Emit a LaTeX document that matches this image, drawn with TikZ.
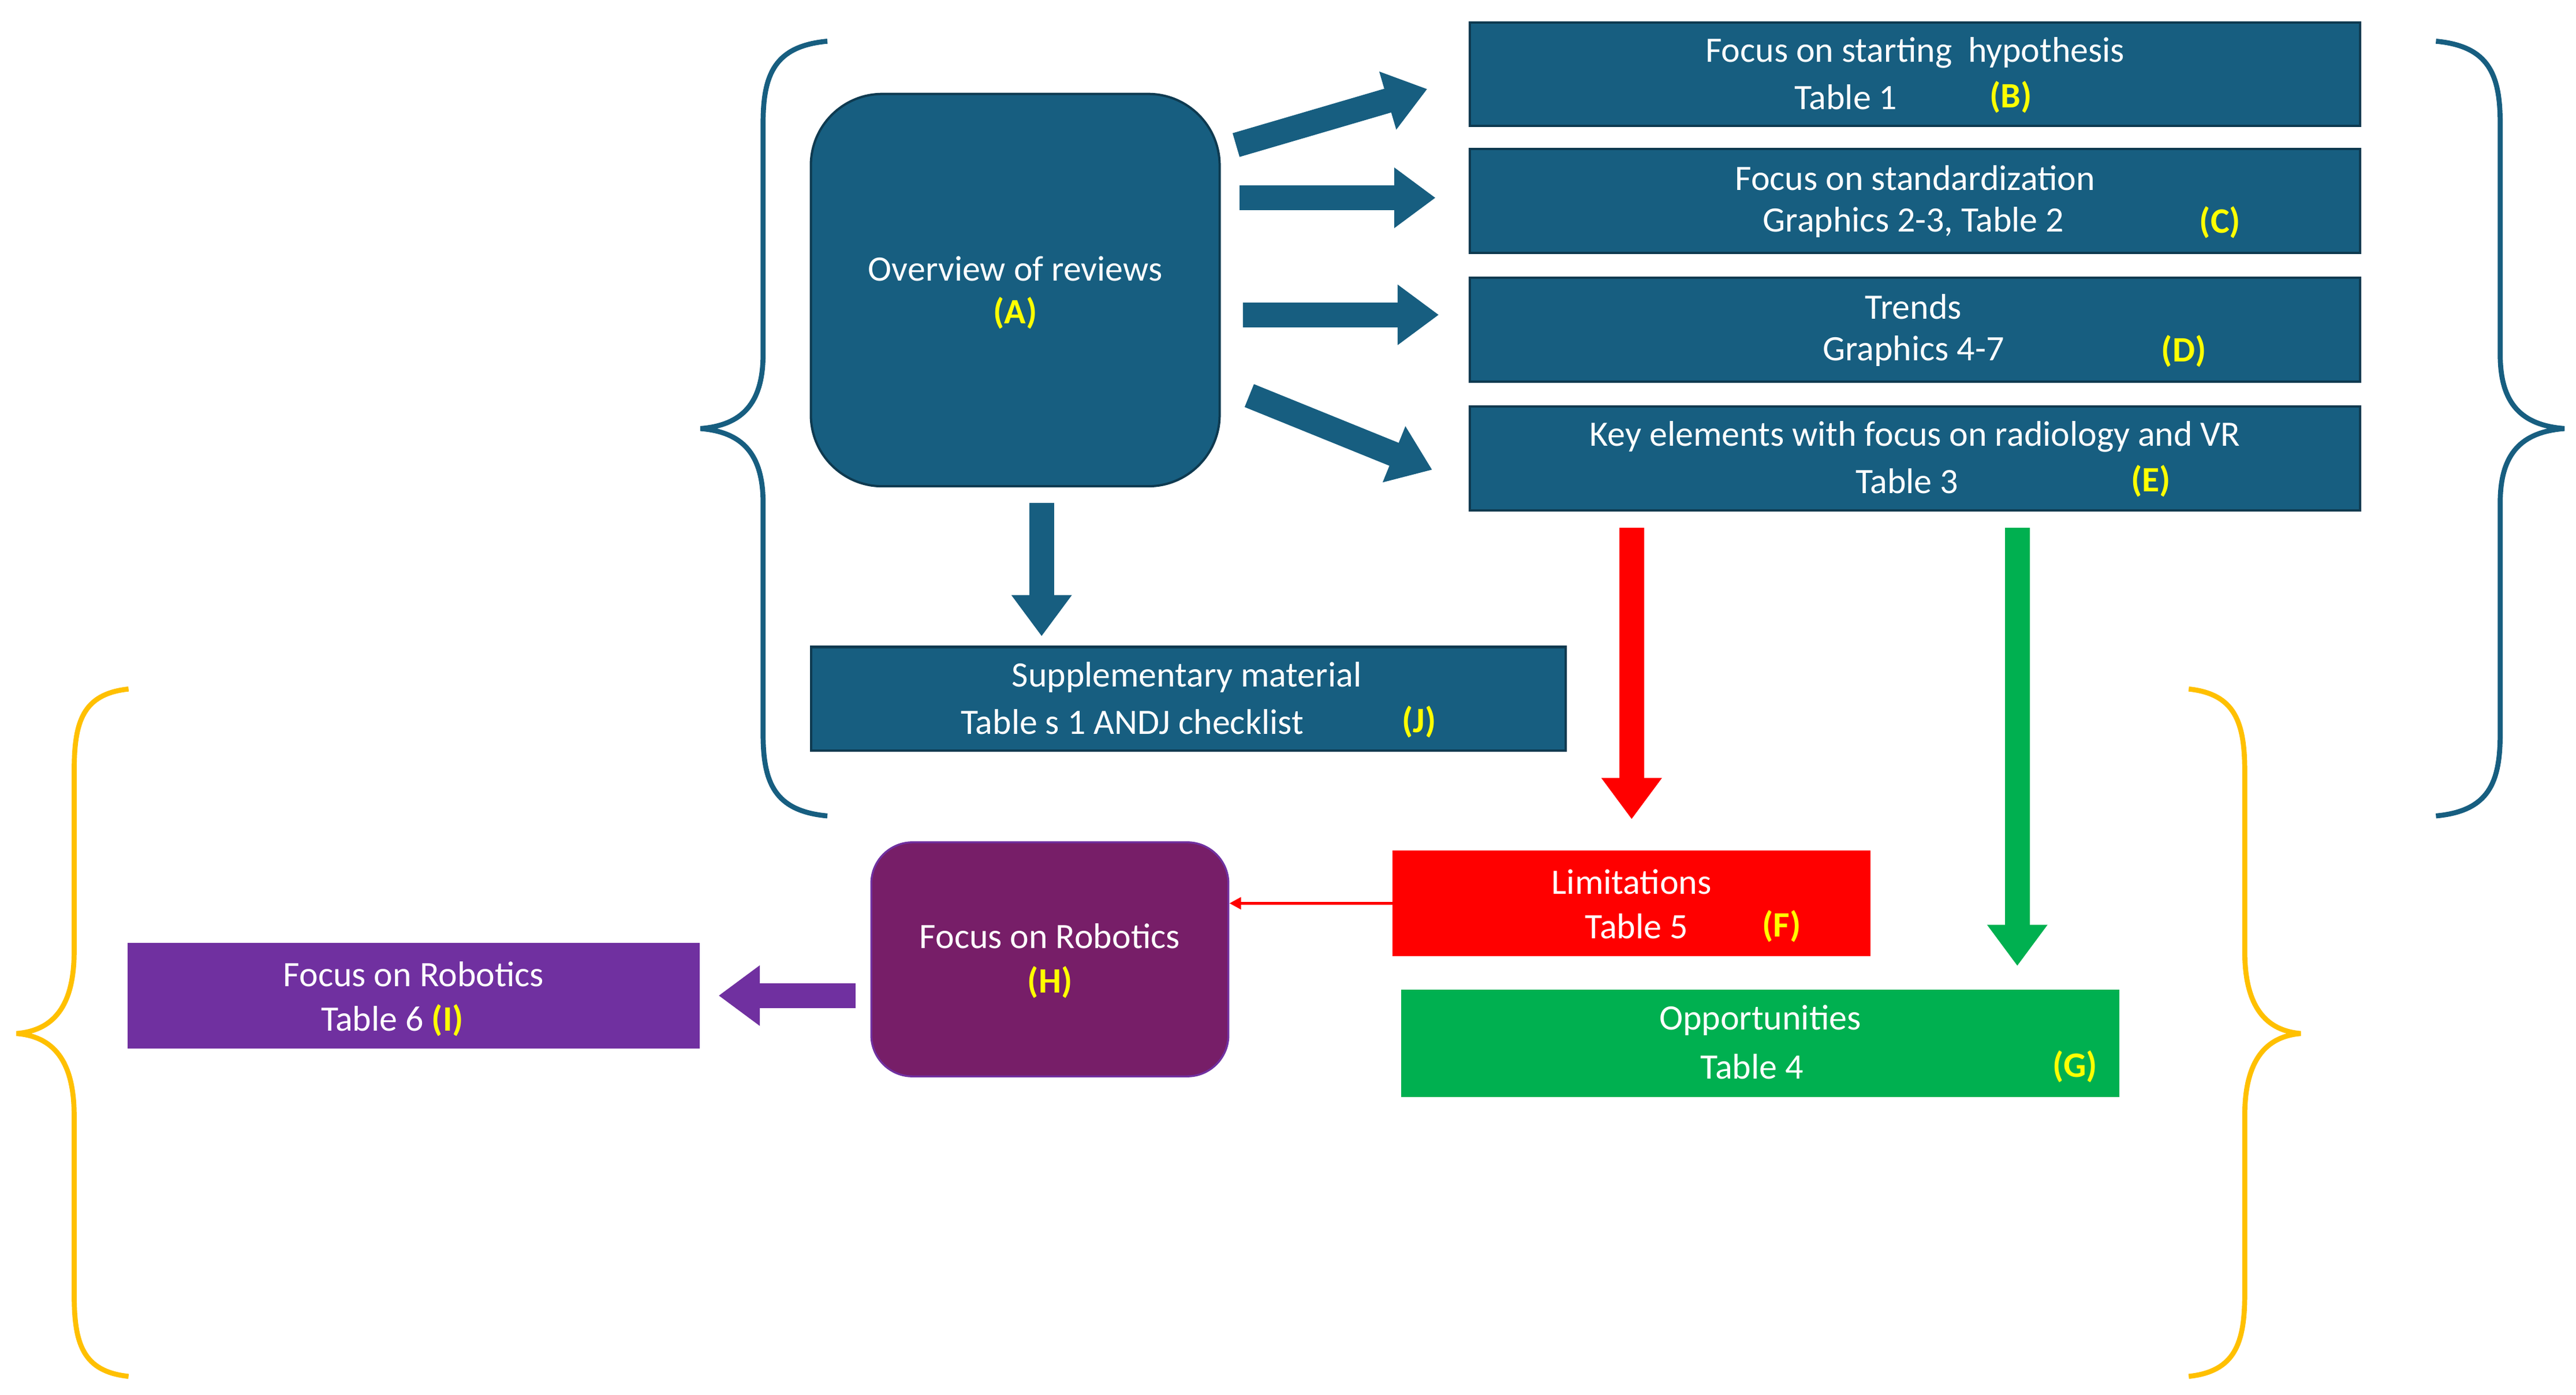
\documentclass[tikz,border=0pt]{standalone}
\usepackage{fontspec}
\setmainfont{Carlito}
\usetikzlibrary{arrows.meta,positioning}
\definecolor{teal}{HTML}{175E80}
\definecolor{tealdk}{HTML}{0E3A50}
\definecolor{yel}{HTML}{FFFF00}
\definecolor{gold}{HTML}{FFC000}
\definecolor{red1}{HTML}{FF0000}
\definecolor{grn}{HTML}{00B050}
\definecolor{plum}{HTML}{771E68}
\definecolor{purp}{HTML}{7030A0}
\begin{document}
\begin{tikzpicture}[x=0.03cm,y=-0.03cm,
  box/.style={draw=tealdk,line width=1.2pt,fill=teal,minimum height=1.89cm,inner sep=0},
  txt/.style={text=white,font=\fontsize{18.5}{22}\selectfont,inner sep=0},
  lab/.style={text=yel,font=\fontsize{18.5}{22}\selectfont\bfseries,inner sep=0},
  blk/.style={line width=0.45cm,-{Triangle[length=0.75cm,width=1.05cm]}},
  brace/.style={line width=2.6pt}]
\useasboundingbox (0,0) rectangle (1563,846);
% boxes
\node[box,rounded corners=1.3cm,minimum width=7.44cm,minimum height=7.14cm] (A) at (616,176) {};
\node[txt] (At) at (616,163) {Overview of reviews};
\node[lab] (Al) at (616,190) {(A)};
\foreach \n/\y in {B/45,C/122,D/200,E/278}{
  \node[box,minimum width=16.2cm] (\n) at (1162,\y) {};}
\node[txt] at (1162,32) {Focus on starting\ \ hypothesis};
\node[txt] at (1120,59) {Table 1}; \node[lab] at (1220,59) {(B)};
\node[txt] at (1162,108) {Focus on standardization};
\node[txt] at (1161,135) {Graphics 2-3, Table 2}; \node[lab] at (1347,135) {(C)};
\node[txt] at (1161,186) {Trends};
\node[txt] at (1161,213) {Graphics 4-7}; \node[lab] at (1325,213) {(D)};
\node[txt] at (1162,265) {Key elements with focus on radiology and VR};
\node[txt] at (1157,292) {Table 3}; \node[lab] at (1305,292) {(E)};
\node[box,minimum width=13.74cm] (J) at (721,424) {};
\node[txt] at (720,411) {Supplementary material};
\node[txt] at (687,438) {Table s 1 ANDJ checklist}; \node[lab] at (861,438) {(J)};
\node[draw=none,fill=red1,minimum width=8.7cm,minimum height=1.92cm] (F) at (990,548) {};
\node[txt] at (990,535) {Limitations};
\node[txt] at (993,562) {Table 5}; \node[lab] at (1081,562) {(F)};
\node[draw=none,fill=grn,minimum width=13.08cm,minimum height=1.95cm] (G) at (1068,633) {};
\node[txt] at (1068,619) {Opportunities};
\node[txt] at (1063,647) {Table 4}; \node[lab] at (1259,647) {(G)};
\node[draw=purp,line width=1pt,fill=plum,rounded corners=0.75cm,minimum width=6.5cm,minimum height=4.26cm] (H) at (637,582) {};
\node[txt] at (637,568) {Focus on Robotics};
\node[lab] at (637,596) {(H)};
\node[draw=none,fill=purp,minimum width=10.41cm,minimum height=1.92cm] (I) at (251,604) {};
\node[txt] at (251,591) {Focus on Robotics};
\node[txt] at (238,619) {Table 6 \textcolor{yel}{\bfseries (I)}};
% arrow endpoints
\coordinate (a1) at (750,88); \coordinate (b1) at (866,54);
\coordinate (a2) at (752,120); \coordinate (b2) at (871,120);
\coordinate (a3) at (754,191); \coordinate (b3) at (873,191);
\coordinate (a4) at (758,240); \coordinate (b4) at (869,285);
\coordinate (a5) at (632,305); \coordinate (b5) at (632,386);
\coordinate (e1) at (990,320); \coordinate (f1) at (990,497);
\coordinate (e2) at (1224,320); \coordinate (g1) at (1224,586);
\coordinate (h1) at (519,604); \coordinate (i1) at (436,604);
\draw[blk,teal] (a1) -- (b1);
\draw[blk,teal] (a2) -- (b2);
\draw[blk,teal] (a3) -- (b3);
\draw[blk,teal] (a4) -- (b4);
\draw[blk,teal] (a5) -- (b5);
\draw[blk,red1] (e1) -- (f1);
\draw[blk,grn] (e2) -- (g1);
\draw[blk,purp] (h1) -- (i1);
\draw[red1,line width=1.5pt,-{Triangle[length=6pt,width=6pt]}] (F.west) -- (H.east|-F.west);
% braces
\draw[brace,teal] (502,25) .. controls (470,28) and (463,45) .. (463,75) -- (463,215)
  .. controls (463,245) and (450,258) .. (425,260)
  .. controls (450,262) and (463,275) .. (463,305) -- (463,445)
  .. controls (463,475) and (470,492) .. (502,495);
\draw[brace,teal] (1478,25) .. controls (1510,28) and (1517,45) .. (1517,75) -- (1517,215)
  .. controls (1517,245) and (1530,258) .. (1556,260)
  .. controls (1530,262) and (1517,275) .. (1517,305) -- (1517,445)
  .. controls (1517,475) and (1510,492) .. (1478,495);
\draw[brace,gold] (78,418) .. controls (50,421) and (45,438) .. (45,468) -- (45,577)
  .. controls (45,607) and (35,625) .. (10,627)
  .. controls (35,629) and (45,647) .. (45,677) -- (45,785)
  .. controls (45,815) and (50,832) .. (78,835);
\draw[brace,gold] (1328,418) .. controls (1356,421) and (1362,438) .. (1362,468) -- (1362,577)
  .. controls (1362,607) and (1372,625) .. (1396,627)
  .. controls (1372,629) and (1362,647) .. (1362,677) -- (1362,785)
  .. controls (1362,815) and (1356,832) .. (1328,835);
\end{tikzpicture}
\end{document}
